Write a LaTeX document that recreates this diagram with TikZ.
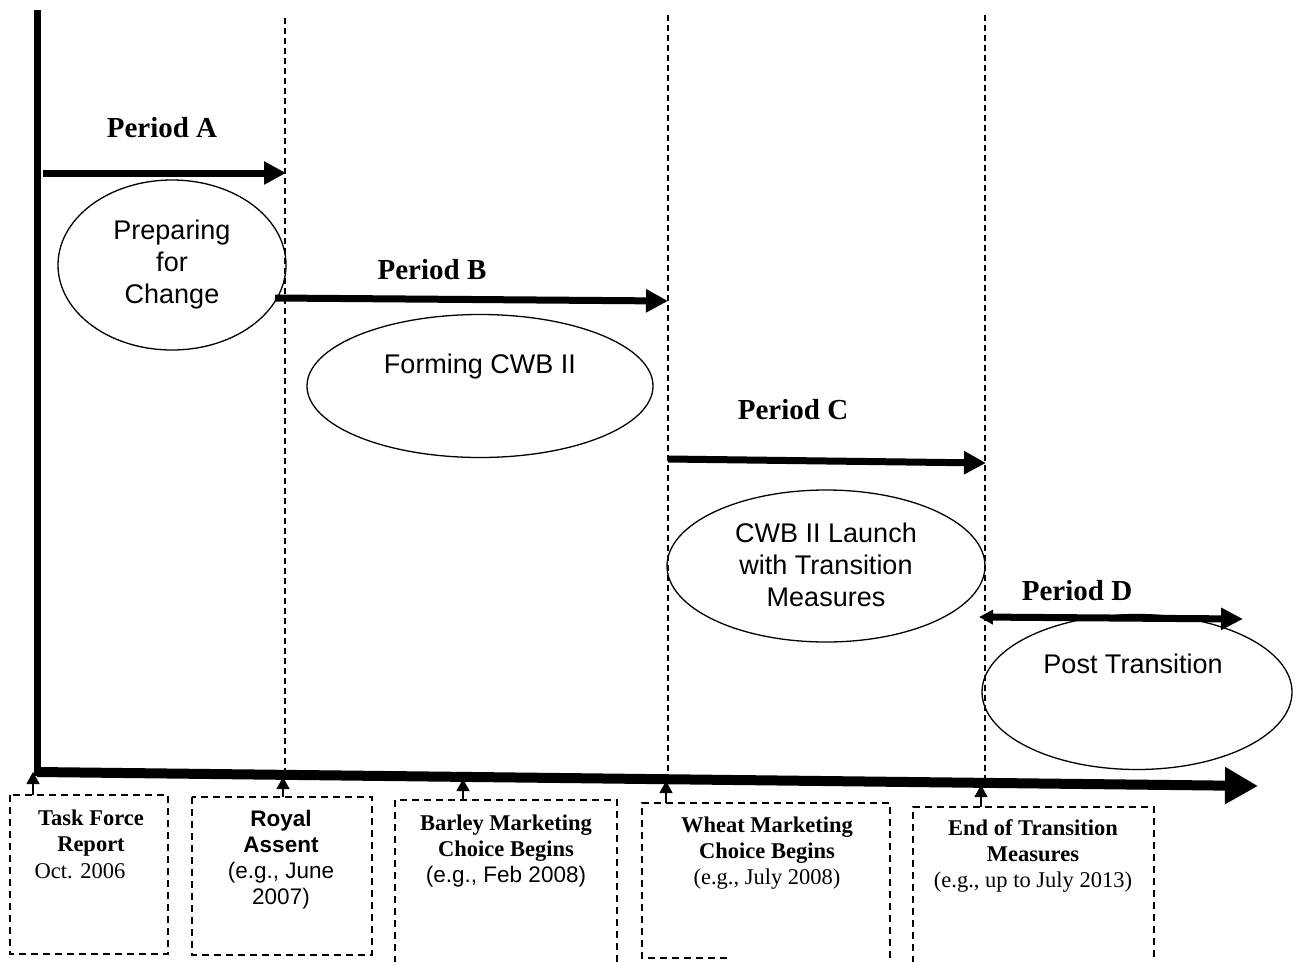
\documentclass[tikz,border=0pt]{standalone}
\usepackage{fontspec}
\setmainfont{Liberation Serif}
\setsansfont{Liberation Sans}
\usetikzlibrary{arrows.meta,shapes.geometric}
\begin{document}
\begin{tikzpicture}[x=1pt,y=-1pt,
  ell/.style={draw,ellipse,line width=1.3pt,inner sep=0pt},
  etext/.style={font=\sffamily\fontsize{27}{32}\selectfont,align=center,inner sep=0pt},
  per/.style={font=\fontsize{29}{31}\selectfont\bfseries,inner sep=0pt},
  parr/.style={line width=7pt,-{Triangle[length=22pt,width=22pt]}},
  vdash/.style={line width=1.2pt,dash pattern=on 6pt off 4pt},
  boxd/.style={line width=1.3pt,dash pattern=on 7pt off 5pt},
  btext/.style={font=\fontsize{22.5}{26}\selectfont,align=center,inner sep=0pt},
  uparr/.style={line width=1.2pt,-{Triangle[length=12pt,width=13pt]}},
]
\useasboundingbox (0,0) rectangle (1300,961);
% axes
\coordinate (o) at (37,772);
\coordinate (top) at (37,10);
\coordinate (xend) at (1258,786);
\draw[line width=7pt] (top) -- (37,776);
\draw[line width=10pt,-{Triangle[length=33pt,width=35pt]}] (o) -- (xend);
% dashed verticals
\coordinate (d1t) at (285,18);  \coordinate (d1b) at (285,780);
\coordinate (d2t) at (668,15);  \coordinate (d2b) at (668,782);
\coordinate (d3t) at (985,15);  \coordinate (d3b) at (985,785);
\draw[vdash] (d1t) -- (d1b);
\draw[vdash] (d2t) -- (d2b);
\draw[vdash] (d3t) -- (d3b);
% period arrows and labels
\node[per] (pA) at (162,128) {Period A};
\coordinate (aA1) at (43,173); \coordinate (aA2) at (286,173);
\draw[parr] (aA1) -- (aA2);
\node[per] (pB) at (432,270) {Period B};
\coordinate (aB1) at (275,298); \coordinate (aB2) at (668,301);
\draw[parr] (aB1) -- (aB2);
\node[per] (pC) at (793,410) {Period C};
\coordinate (aC1) at (668,459); \coordinate (aC2) at (986,463);
\draw[parr] (aC1) -- (aC2);
\node[per] (pD) at (1077,591) {Period D};
\coordinate (aD1) at (979,617); \coordinate (aD2) at (1243,619);
\draw[line width=7pt,{Triangle[length=14pt,width=14pt]}-{Triangle[length=22pt,width=21pt]}] (aD1) -- (aD2);
% ellipses
\node[ell,minimum width=228pt,minimum height=170pt] (eA) at (172,265) {};
\node[etext] (tA) at (172,265) {Preparing\\for\\Change};
\node[ell,minimum width=346pt,minimum height=143pt] (eB) at (480,386) {};
\node[etext] (tB) at (480,367) {Forming CWB II};
\node[ell,minimum width=318pt,minimum height=152pt] (eC) at (826,566) {};
\node[etext] (tC) at (826,565) {CWB II Launch\\with Transition\\Measures};
\node[ell,minimum width=310pt,minimum height=155pt] (eD) at (1137,692) {};
\node[etext] (tD) at (1133,664) {Post Transition};
% boxes
\coordinate (b1n) at (33,795);
\draw[boxd] (10,795) rectangle (168,954);
\coordinate (b2n) at (283,797);
\draw[boxd] (192,797) rectangle (372,955);
\coordinate (b3n) at (463,800);
\draw[boxd] (395,975) -- (395,800) -- (617,800) -- (617,975);
\coordinate (b4n) at (666,803);
\draw[boxd] (727,958) -- (642,958) -- (642,803) -- (890,803) -- (890,975);
\coordinate (b5n) at (981,807);
\draw[boxd] (913,975) -- (913,807) -- (1154,807) -- (1154,975);
% small up arrows
\coordinate (u1) at (33,772);
\coordinate (u2) at (283,777);
\coordinate (u3) at (463,779);
\coordinate (u4) at (666,781);
\coordinate (u5) at (981,785);
\draw[uparr] (b1n) -- (u1);
\draw[uparr] (b2n) -- (u2);
\draw[uparr] (b3n) -- (u3);
\draw[uparr] (b4n) -- (u4);
\draw[uparr] (b5n) -- (u5);
% box texts
\node[btext] (t1) at (91,833) {\bfseries Task Force\\\bfseries Report};
\node[btext] (t1b) at (80,871) {Oct. 2006};
\node[btext,font=\sffamily\fontsize{22.5}{26}\selectfont] (t2) at (281,860) {\bfseries Royal\\\bfseries Assent\\(e.g., June\\2007)};
\node[btext] (t3) at (506,851) {\bfseries Barley Marketing\\\bfseries Choice Begins\\\sffamily (e.g., Feb 2008)};
\node[btext] (t4) at (767,853) {\bfseries Wheat Marketing\\\bfseries Choice Begins\\(e.g., July 2008)};
\node[btext] (t5) at (1033,856) {\bfseries End of Transition\\\bfseries Measures\\(e.g., up to July 2013)};
\end{tikzpicture}
\end{document}
